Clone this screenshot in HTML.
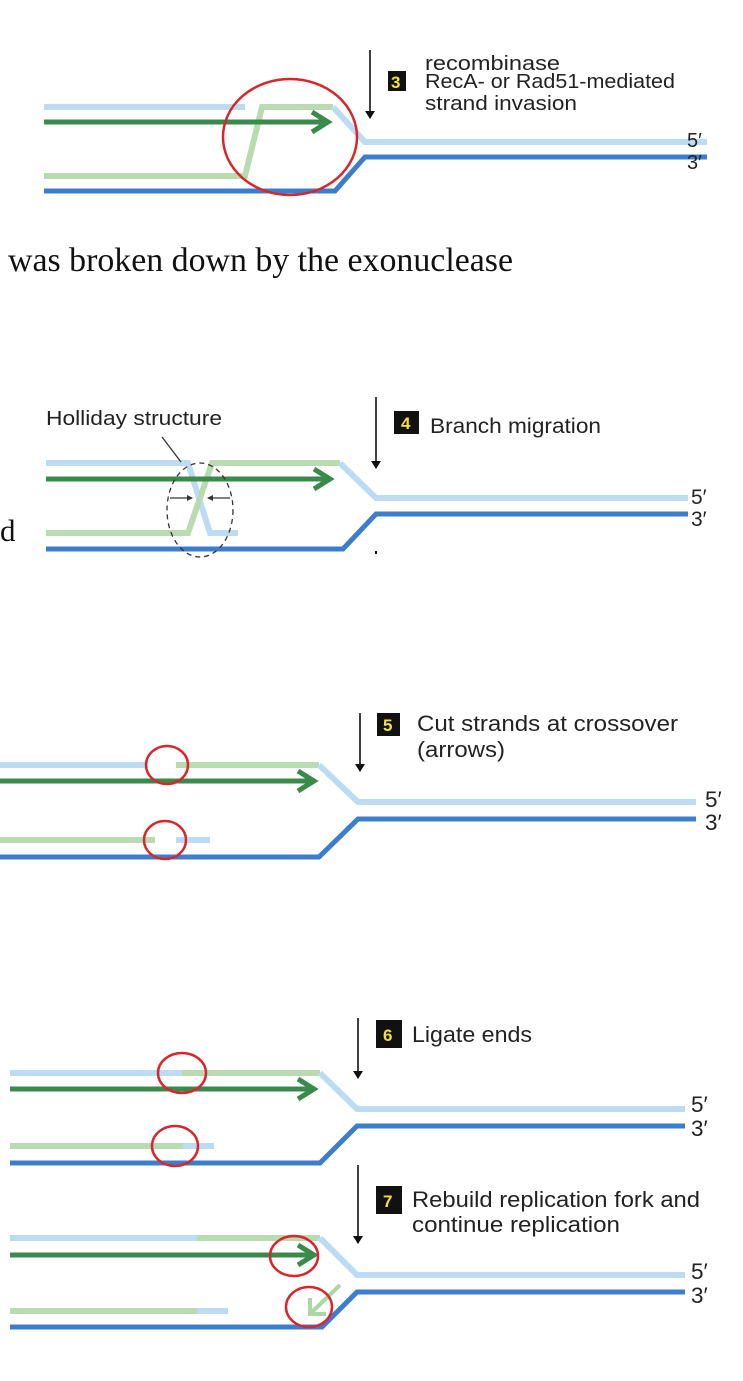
<!DOCTYPE html>
<html><head><meta charset="utf-8"><style>
html,body{margin:0;padding:0;background:#fff;}
svg{display:block;}
text{font-family:"Liberation Sans",Arial,sans-serif;fill:#222;}
.lb{stroke:#bcdcf3;stroke-width:6;fill:none;}
.lg{stroke:#b8dbb2;stroke-width:6;fill:none;}
.dg{stroke:#3a8a4b;stroke-width:5;fill:none;}
.db{stroke:#3c7dcc;stroke-width:5;fill:none;}
.rc{stroke:#d8262b;stroke-width:2.5;fill:none;}
.bx{fill:#111;}
.num{fill:#f4e23a;font-weight:bold;font-size:17px;}
.p1{font-size:20px;}
.p2{font-size:21px;}
.p3{font-size:22.5px;}
.p4{font-size:22.5px;}
</style></head><body>
<svg width="743" height="1381" viewBox="0 0 743 1381" xmlns="http://www.w3.org/2000/svg">
<defs>
<marker id="ah" markerWidth="8" markerHeight="10" refX="7" refY="5" orient="auto" markerUnits="userSpaceOnUse"><path d="M0,0 L8,5 L0,10 Z" fill="#111"/></marker>
<marker id="sh" markerWidth="6" markerHeight="6" refX="5" refY="3" orient="auto" markerUnits="userSpaceOnUse"><path d="M0,0 L6,3 L0,6 Z" fill="#333"/></marker>
</defs>

<!-- Panel 3 -->
<line class="lb" x1="44" y1="107" x2="245" y2="107"/>
<polyline class="lg" points="44,176 245,176 262,107 333,107"/>
<polyline class="dg" points="44,122 326,122"/>
<polyline class="dg" points="312,112 328,122 312,132" stroke-linejoin="miter"/>
<polyline class="lb" points="333,107 365,142 707,142"/>
<polyline class="db" points="44,191 335,191 365,157 707,157"/>
<ellipse class="rc" cx="290" cy="137" rx="67" ry="58"/>
<line x1="370" y1="50" x2="370" y2="118" stroke="#111" stroke-width="1.6" marker-end="url(#ah)"/>
<rect class="bx" x="388" y="71" width="18" height="20"/>
<text class="num" x="391" y="88">3</text>
<text class="p1" x="425" y="70" textLength="135" lengthAdjust="spacingAndGlyphs">recombinase</text>
<text class="p1" x="425" y="88" textLength="250" lengthAdjust="spacingAndGlyphs">RecA- or Rad51-mediated</text>
<text class="p1" x="425" y="110" textLength="152" lengthAdjust="spacingAndGlyphs">strand invasion</text>
<text class="p1" x="687" y="147">5′</text>
<text class="p1" x="687" y="169">3′</text>

<text x="8" y="271" style="font-family:'Liberation Serif',serif;font-size:33.5px;fill:#111" textLength="505" lengthAdjust="spacingAndGlyphs">was broken down by the exonuclease</text>

<!-- Panel 4 -->
<polyline class="lb" points="46,463 188,463 210,533 238,533"/>
<polyline class="lg" points="46,533 188,533 212,463 340,463"/>
<polyline class="dg" points="46,479 328,479"/>
<polyline class="dg" points="314,469 330,479 314,489"/>
<polyline class="lb" points="340,463 376,498 688,498"/>
<polyline class="db" points="46,549 343,549 376,514 688,514"/>
<ellipse cx="200" cy="510" rx="33" ry="47" fill="none" stroke="#333" stroke-width="1.3" stroke-dasharray="5,4"/>
<line x1="162" y1="437" x2="181" y2="462" stroke="#333" stroke-width="1.3"/>
<line x1="170" y1="498" x2="192" y2="498" stroke="#333" stroke-width="1.3" marker-end="url(#sh)"/>
<line x1="230" y1="498" x2="208" y2="498" stroke="#333" stroke-width="1.3" marker-end="url(#sh)"/>
<text x="46" y="425" style="font-size:20px" textLength="176" lengthAdjust="spacingAndGlyphs">Holliday structure</text>
<line x1="376" y1="397" x2="376" y2="468" stroke="#111" stroke-width="1.6" marker-end="url(#ah)"/>
<rect class="bx" x="394" y="411" width="25" height="23"/>
<text class="num" x="401" y="429">4</text>
<text class="p2" x="430" y="433" textLength="171" lengthAdjust="spacingAndGlyphs">Branch migration</text>
<text class="p2" x="691" y="504">5′</text>
<text class="p2" x="691" y="526">3′</text>
<text x="0" y="541" style="font-family:'Liberation Serif',serif;font-size:31px;fill:#111">d</text>
<rect x="375" y="551" width="2" height="3" fill="#111"/>

<!-- Panel 5 -->
<line class="lb" x1="0" y1="765" x2="148" y2="765"/>
<polyline class="lg" points="176,765 319,765"/>
<polyline class="dg" points="0,781 312,781"/>
<polyline class="dg" points="298,771 314,781 298,791"/>
<polyline class="lb" points="319,765 358,802 696,802"/>
<line class="lg" x1="0" y1="840" x2="155" y2="840"/>
<line class="lb" x1="176" y1="840" x2="210" y2="840"/>
<polyline class="db" points="0,857 319,857 358,819 696,819"/>
<ellipse class="rc" cx="167" cy="765" rx="21" ry="19"/>
<ellipse class="rc" cx="165" cy="840" rx="21" ry="19"/>
<line x1="360" y1="713" x2="360" y2="771" stroke="#111" stroke-width="1.6" marker-end="url(#ah)"/>
<rect class="bx" x="377" y="713" width="23" height="23"/>
<text class="num" x="383" y="731">5</text>
<text class="p3" x="417" y="731" textLength="261" lengthAdjust="spacingAndGlyphs">Cut strands at crossover</text>
<text class="p3" x="417" y="757" textLength="88" lengthAdjust="spacingAndGlyphs">(arrows)</text>
<text class="p3" x="705" y="807">5′</text>
<text class="p3" x="705" y="830">3′</text>

<!-- Panel 6 -->
<line class="lb" x1="10" y1="1073" x2="182" y2="1073"/>
<line class="lg" x1="182" y1="1073" x2="320" y2="1073"/>
<polyline class="dg" points="10,1089 312,1089"/>
<polyline class="dg" points="298,1079 314,1089 298,1099"/>
<polyline class="lb" points="320,1073 357,1109 685,1109"/>
<line class="lg" x1="10" y1="1146" x2="183" y2="1146"/>
<line class="lb" x1="183" y1="1146" x2="214" y2="1146"/>
<polyline class="db" points="10,1163 320,1163 357,1126 685,1126"/>
<ellipse class="rc" cx="182" cy="1073" rx="24" ry="20"/>
<ellipse class="rc" cx="175" cy="1146" rx="23" ry="20"/>
<line x1="358" y1="1018" x2="358" y2="1078" stroke="#111" stroke-width="1.6" marker-end="url(#ah)"/>
<rect class="bx" x="376" y="1020" width="26" height="28"/>
<text class="num" x="383" y="1041">6</text>
<text class="p4" x="412" y="1042" textLength="120" lengthAdjust="spacingAndGlyphs">Ligate ends</text>
<text class="p4" x="691" y="1112">5′</text>
<text class="p4" x="691" y="1136">3′</text>

<!-- Panel 7 -->
<line class="lb" x1="10" y1="1238" x2="197" y2="1238"/>
<line class="lg" x1="197" y1="1238" x2="320" y2="1238"/>
<polyline class="dg" points="10,1255 312,1255"/>
<polyline class="dg" points="298,1245 314,1255 298,1265"/>
<polyline class="lb" points="320,1238 357,1275 685,1275"/>
<line class="lg" x1="10" y1="1311" x2="197" y2="1311"/>
<line class="lb" x1="197" y1="1311" x2="228" y2="1311"/>
<polyline class="db" points="10,1327 322,1327 357,1292 685,1292"/>
<line x1="340" y1="1285" x2="312" y2="1312" stroke="#a9d8a4" stroke-width="4"/>
<polyline points="310,1298 310,1314 326,1314" stroke="#a9d8a4" stroke-width="4" fill="none"/>
<ellipse class="rc" cx="294" cy="1256" rx="24" ry="20"/>
<ellipse class="rc" cx="309" cy="1307" rx="23" ry="20"/>
<line x1="358" y1="1165" x2="358" y2="1243" stroke="#111" stroke-width="1.6" marker-end="url(#ah)"/>
<rect class="bx" x="376" y="1186" width="26" height="28"/>
<text class="num" x="383" y="1207">7</text>
<text class="p4" x="412" y="1207" textLength="288" lengthAdjust="spacingAndGlyphs">Rebuild replication fork and</text>
<text class="p4" x="412" y="1232" textLength="208" lengthAdjust="spacingAndGlyphs">continue replication</text>
<text class="p4" x="691" y="1279">5′</text>
<text class="p4" x="691" y="1303">3′</text>
</svg>
</body></html>
